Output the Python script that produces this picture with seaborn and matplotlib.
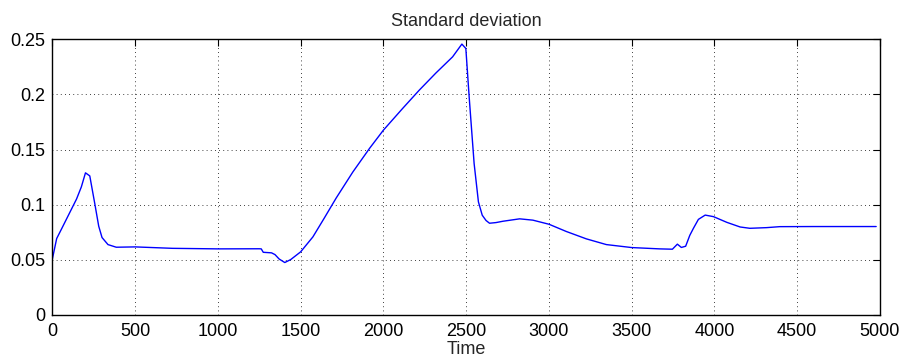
import pandas as pd
import seaborn as sns
import matplotlib.pyplot as plt

# Values
time = [0, 26, 56, 86, 116, 146, 175, 200, 226, 256, 280, 300, 336, 386, 500,
        726, 1000, 1250, 1262, 1274, 1324, 1345, 1370, 1404, 1440, 1500, 1574,
        1640, 1715, 1815, 1916, 2000, 2116, 2217, 2317, 2418, 2474, 2498, 2518,
        2548, 2574, 2597, 2620, 2641, 2680, 2722, 2823, 2903, 3000, 3105, 3226,
        3347, 3500, 3669, 3746, 3776, 3800, 3826, 3851, 3873, 3903, 3944, 3994,
        4075, 4155, 4214, 4315, 4395, 4600, 4800, 4977]
std = [0.0505, 0.0691, 0.0780, 0.0870, 0.0960, 0.1050, 0.1160, 0.1288, 0.1260,
       0.1010, 0.0803, 0.0700, 0.0636, 0.0612, 0.0615, 0.0602, 0.0597, 0.0598,
       0.0597, 0.0566, 0.0561, 0.0545, 0.0505, 0.0473, 0.0500, 0.0570, 0.0706,
       0.0870, 0.1060, 0.1295, 0.1510, 0.1676, 0.1873, 0.2040, 0.2195, 0.2342,
       0.2458, 0.2418, 0.1979, 0.1373, 0.1024, 0.0903, 0.0855, 0.0830, 0.0836,
       0.0848, 0.0870, 0.0858, 0.0821, 0.0755, 0.0688, 0.0636, 0.0609, 0.0597,
       0.0594, 0.0640, 0.0610, 0.0621, 0.0720, 0.0784, 0.0865, 0.0904, 0.0890,
       0.0838, 0.0796, 0.0784, 0.0790, 0.0799, 0.0800, 0.0800, 0.0800]

df = pd.DataFrame({'Time': time, 'std': std})

sns.set_style('white')
plt.rcParams['font.family'] = ['Liberation Sans', 'DejaVu Sans']

fig = plt.figure(figsize=(9.03, 3.62), dpi=100)
ax = fig.add_axes([0.058, 0.131, 0.9165, 0.760])

sns.lineplot(data=df, x='Time', y='std', color='#0000ff', linewidth=1.0, ax=ax)

ax.set_xlim(0, 5000)
ax.set_ylim(0, 0.25)
ax.set_xticks(range(0, 5001, 500))
ax.set_yticks([0, 0.05, 0.1, 0.15, 0.2, 0.25])
ax.set_yticklabels(['0', '0.05', '0.1', '0.15', '0.2', '0.25'])
ax.grid(True, linestyle=(0, (1, 4)), color='black', linewidth=0.6)
ax.tick_params(direction='in', top=True, right=True, length=5, width=0.8,
               labelsize=13, colors='black')
ax.tick_params(axis='x', pad=6)
ax.tick_params(axis='y', pad=5)
for s in ax.spines.values():
    s.set_color('black')
    s.set_linewidth(1.0)

ax.set_title('Standard deviation', fontsize=13, pad=10)
ax.set_xlabel('Time', fontsize=13, labelpad=1)
ax.set_ylabel('')

fig.savefig('out.png', dpi=100)
